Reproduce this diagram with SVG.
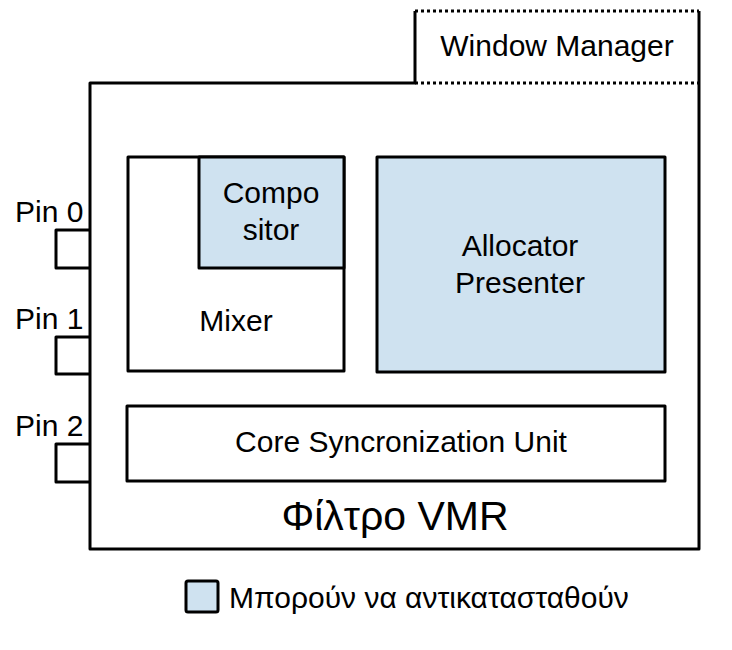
<svg xmlns="http://www.w3.org/2000/svg" width="732" height="650" viewBox="0 0 732 650">
<style>
.box{fill:#fff;stroke:#000;stroke-width:3;stroke-linejoin:round}
.pin{fill:none;stroke:#000;stroke-width:3;stroke-linejoin:round}
.blue{fill:#cfe2f0;stroke:#000;stroke-width:3;stroke-linejoin:round}
.t{font-family:"Liberation Sans",Arial,sans-serif;font-size:30px;fill:#000}
.c{text-anchor:middle}
</style>
<rect width="732" height="650" fill="#fff"/>
<g id="vmr-filter">
<path class="box" d="M415,11 V83 H90 V549 H699 V11"/>
<text class="t c" x="395" y="530" style="font-size:41px">Φίλτρο VMR</text>
</g>
<g id="window-manager">
<path d="M415,11 H699 M415,83 H699" stroke="#000" stroke-width="3" stroke-dasharray="3,3" fill="none"/>
<text class="t c" x="557" y="56">Window Manager</text>
</g>
<g id="pin0">
<path class="pin" d="M90,230 H56 V268 H90"/>
<text class="t" x="15" y="222">Pin 0</text>
</g>
<g id="pin1">
<path class="pin" d="M90,337 H56 V374 H90"/>
<text class="t" x="15" y="329">Pin 1</text>
</g>
<g id="pin2">
<path class="pin" d="M90,444 H56 V482 H90"/>
<text class="t" x="15" y="436">Pin 2</text>
</g>
<g id="mixer">
<rect class="box" x="128" y="157" width="216" height="214"/>
<text class="t c" x="236" y="331">Mixer</text>
</g>
<g id="compositor">
<rect class="blue" x="199" y="157" width="145" height="111"/>
<text class="t c" x="271" y="203">Compo</text>
<text class="t c" x="271" y="240">sitor</text>
</g>
<g id="allocator-presenter">
<rect class="blue" x="377" y="157" width="288" height="215"/>
<text class="t c" x="520" y="256">Allocator</text>
<text class="t c" x="520" y="293">Presenter</text>
</g>
<g id="core-sync">
<rect class="box" x="127" y="406" width="538" height="75"/>
<text class="t c" x="401" y="452">Core Syncronization Unit</text>
</g>
<g id="legend">
<rect class="blue" x="186" y="581" width="32" height="31" rx="2"/>
<text class="t" x="229" y="608">Μπορούν να αντικατασταθούν</text>
</g>
<g id="connectors"></g>
</svg>
